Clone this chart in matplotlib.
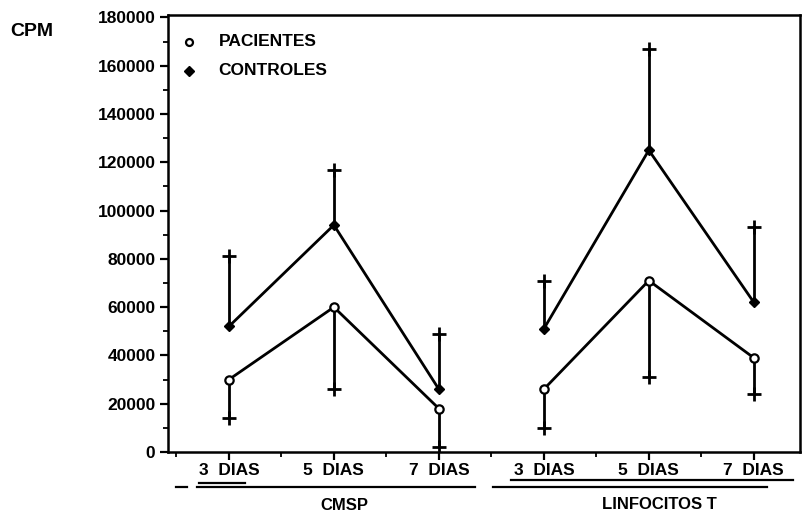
import matplotlib
matplotlib.use("Agg")
import matplotlib.pyplot as plt
from matplotlib.lines import Line2D
from matplotlib.ticker import MultipleLocator
import numpy as np

plt.rcParams['font.family'] = ['Liberation Sans', 'DejaVu Sans']
plt.rcParams['font.weight'] = 'bold'

# Data (CPM), CMSP days 3/5/7 then Linfocitos T days 3/5/7
tick_labels = ["3  DIAS", "5  DIAS", "7  DIAS", "3  DIAS", "5  DIAS", "7  DIAS"]
groups = ["CMSP", "LINFOCITOS T"]
pacientes_mean = [30000, 60000, 18000, 26000, 71000, 39000]
pacientes_sd = [16000, 34000, 16000, 16000, 40000, 15000]
controles_mean = [52000, 94000, 26000, 51000, 125000, 62000]
controles_sd = [29000, 23000, 23000, 20000, 42000, 31000]

x = np.arange(1, len(tick_labels) + 1)
pm = np.array(pacientes_mean)
ps = np.array(pacientes_sd)
cm = np.array(controles_mean)
cs = np.array(controles_sd)

fig = plt.figure(figsize=(8.06, 5.16), dpi=100)
ax = fig.add_axes([168 / 806, 1 - 452 / 516, (800 - 168) / 806, (452 - 15) / 516])

lw = 2.0
# error bars: controles go up, pacientes go down, "+" shaped ends
ax.errorbar(x, cm, yerr=[np.zeros_like(cs), cs], fmt='none', ecolor='black',
            elinewidth=lw, capsize=0)
ax.errorbar(x, pm, yerr=[ps, np.zeros_like(ps)], fmt='none', ecolor='black',
            elinewidth=lw, capsize=0)
ax.plot(x, cm + cs, '+', color='black', ms=10, mew=lw)
ax.plot(x, pm - ps, '+', color='black', ms=10, mew=lw)

# each group is drawn as its own polyline
for sl in (slice(0, 3), slice(3, 6)):
    ax.plot(x[sl], cm[sl], '-', color='black', lw=lw, marker='D', ms=5,
            mfc='black', mec='black')
    ax.plot(x[sl], pm[sl], '-', color='black', lw=lw, marker='o', ms=6,
            mfc='white', mec='black', mew=1.6)

ax.set_xlim(0.42, 6.44)
ax.set_ylim(0, 181000)

ax.set_xticks(x)
ax.set_xticklabels(tick_labels, fontsize=12.5, fontweight='bold')
ax.xaxis.set_minor_locator(MultipleLocator(0.5))
ax.yaxis.set_major_locator(MultipleLocator(20000))
ax.yaxis.set_minor_locator(MultipleLocator(10000))
ax.set_yticklabels([f"{int(v)}" for v in ax.get_yticks()], fontsize=12.5,
                   fontweight='bold')
ax.set_ylim(0, 181000)
ax.tick_params(axis='both', which='major', direction='out', length=6, width=1.6)
ax.tick_params(axis='both', which='minor', direction='out', length=3.5, width=1.3)
ax.tick_params(axis='x', which='major', pad=2)
ax.tick_params(axis='y', which='major', pad=3)
for s in ax.spines.values():
    s.set_linewidth(1.8)

fig.text(10 / 806, 1 - 32 / 516, "CPM", fontsize=14, fontweight='bold',
         va='center', ha='left')

# legend drawn by hand to mimic the original
ax.plot([0.62], [170000], 'o', ms=5, mfc='white', mec='black', mew=1.6)
ax.plot([0.62], [158000], 'D', ms=5, mfc='black', mec='black')
ax.text(0.9, 170000, "PACIENTES", fontsize=12.5, fontweight='bold', va='center')
ax.text(0.9, 158000, "CONTROLES", fontsize=12.5, fontweight='bold', va='center')

# underlines and group labels below the tick labels
tr = ax.get_xaxis_transform()
for x0, x1, yy in [(0.50, 0.60, -0.080), (0.70, 3.34, -0.080), (0.72, 1.15, -0.072),
                   (3.69, 6.37, -0.064), (3.52, 6.13, -0.080)]:
    ax.add_line(Line2D([x0, x1], [yy, yy], transform=tr, color='black',
                       lw=1.6, clip_on=False))
ax.text(2.1, -0.122, groups[0], transform=tr, fontsize=12, fontweight='bold',
        ha='center', va='center')
ax.text(5.1, -0.120, groups[1], transform=tr, fontsize=12, fontweight='bold',
        ha='center', va='center')

fig.savefig("out.png", dpi=100)
